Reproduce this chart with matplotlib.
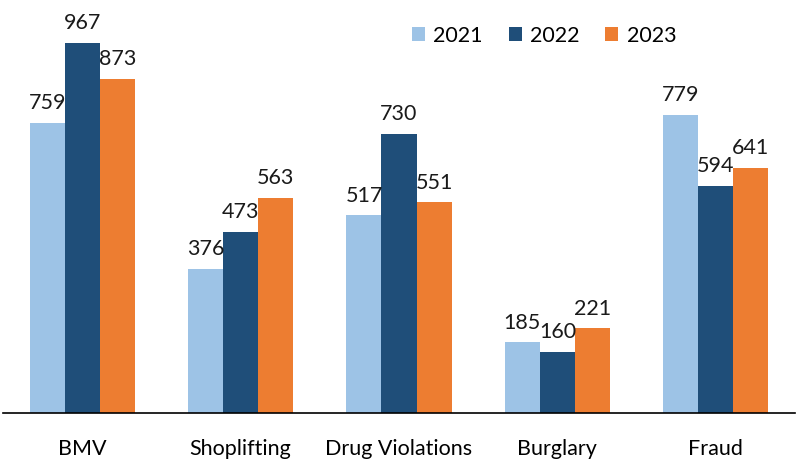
import numpy as np
import matplotlib.pyplot as plt

plt.rcParams['font.family'] = ['Lato', 'DejaVu Sans']

categories = ['BMV', 'Shoplifting', 'Drug Violations', 'Burglary', 'Fraud']
years = ['2021', '2022', '2023']
v2021 = [759, 376, 517, 185, 779]
v2022 = [967, 473, 730, 160, 594]
v2023 = [873, 563, 551, 221, 641]
colors = ['#9DC3E6', '#1F4E79', '#ED7D31']

fig = plt.figure(figsize=(7.97, 4.59), dpi=100)
ax = fig.add_axes([3 / 797, 46 / 459, 792 / 797, 413 / 459])

x = np.arange(len(categories))
w = 0.221
for i, (vals, yr, c) in enumerate(zip([v2021, v2022, v2023], years, colors)):
    bars = ax.bar(x + (i - 1) * w, vals, w, color=c, label=yr)
    ax.bar_label(bars, padding=7, fontsize=15.5, color='#1a1a1a')

ax.set_xlim(-0.5, len(categories) - 0.5)
ax.set_ylim(0, 1080)
ax.set_xticks(x)
ax.set_xticklabels(categories, fontsize=15.5)
ax.tick_params(axis='x', length=0, pad=19)
ax.set_yticks([])
for s in ['top', 'right', 'left']:
    ax.spines[s].set_visible(False)
ax.spines['bottom'].set_linewidth(1.2)

ax.legend(loc='upper right', bbox_to_anchor=(0.875, 0.985), ncol=3, frameon=False,
          fontsize=15.5, handlelength=0.6, handleheight=0.6, handletextpad=0.4,
          columnspacing=1.2)

fig.savefig('out.png', dpi=100)
